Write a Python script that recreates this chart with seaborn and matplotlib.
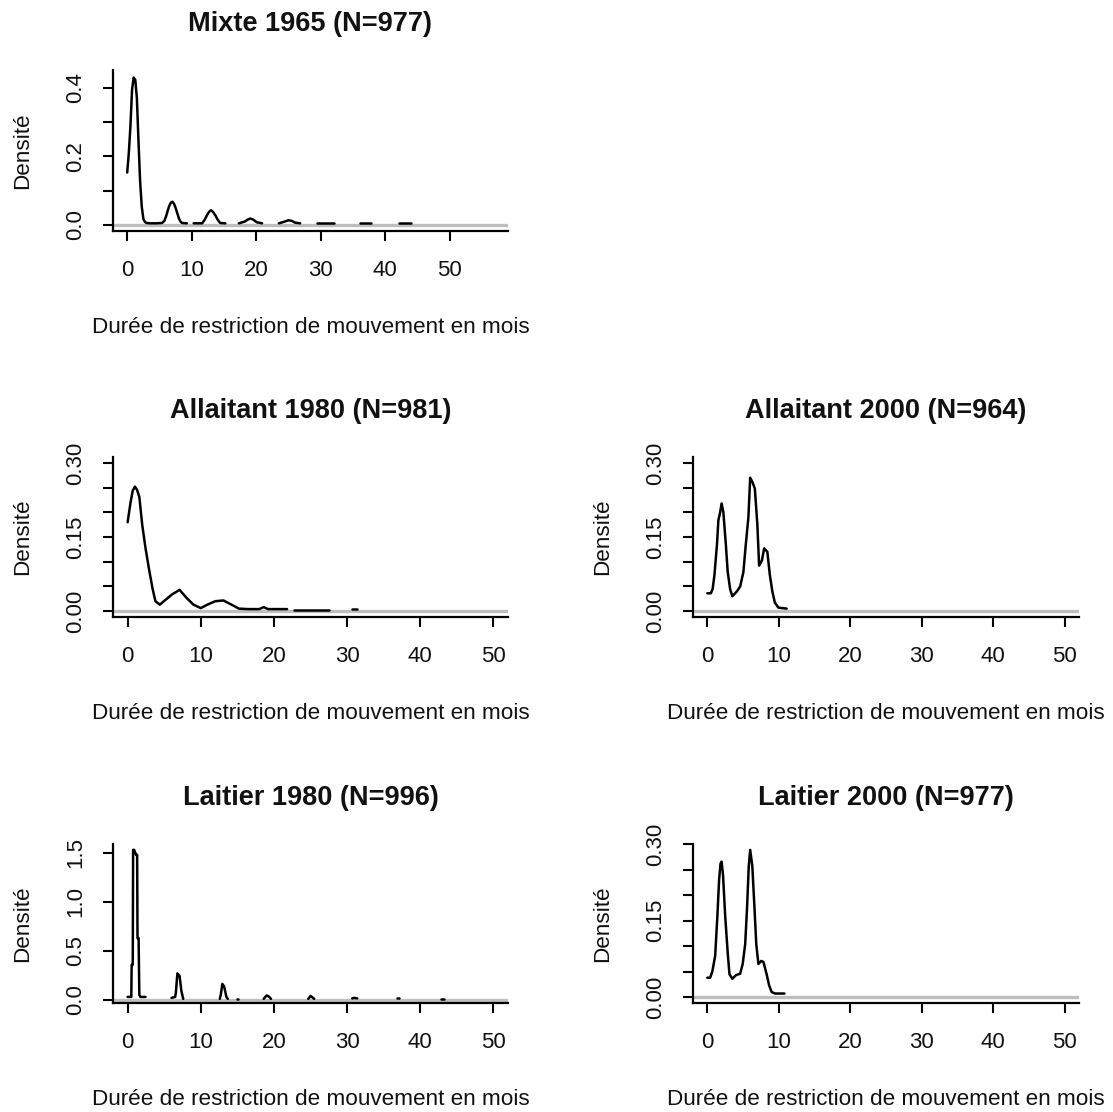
import numpy as np
import pandas as pd
import matplotlib
matplotlib.use("Agg")
import matplotlib.pyplot as plt
import seaborn as sns

# Density curves (NaN = break in the curve)
mixte65_x = [0, 0.25, 0.5, 0.75, 1.0, 1.25, 1.5, 1.75, 2.0, 2.25, 2.5, 2.75, 3.0, 3.5, 4.5, 5.4,
             5.75, 6.0, 6.25, 6.5, 6.75, 7.0, 7.25, 7.5, 7.75, 8.0, 8.25, 8.5, 9.25, 9.8,
             10.3, 11.6, 12.0, 12.4, 12.7, 13.0, 13.3, 13.7, 14.0, 14.4, 15.2, 16.3,
             17.3, 18.2, 18.7, 19.1, 19.5, 20.1, 20.9, 22.2,
             23.5, 24.4, 25.0, 25.5, 26.0, 26.8, 28.1,
             29.4, 32.0, 34.0, 36.1, 37.7, 40.0, 42.1, 43.9]
mixte65_y = [0.153, 0.21, 0.288, 0.394, 0.43, 0.423, 0.37, 0.244, 0.128, 0.055, 0.018, 0.009, 0.006, 0.005, 0.005, 0.006,
             0.012, 0.024, 0.04, 0.055, 0.065, 0.068, 0.062, 0.05, 0.035, 0.02, 0.01, 0.006, 0.005, np.nan,
             0.005, 0.005, 0.015, 0.03, 0.039, 0.043, 0.038, 0.027, 0.016, 0.006, 0.005, np.nan,
             0.005, 0.01, 0.016, 0.019, 0.016, 0.008, 0.005, np.nan,
             0.005, 0.01, 0.014, 0.012, 0.007, 0.005, np.nan,
             0.005, 0.005, np.nan, 0.005, 0.005, np.nan, 0.005, 0.005]

allait80_x = [0, 0.4, 0.7, 1.0, 1.3, 1.6, 2.0, 2.45, 2.9, 3.4, 3.8, 4.4, 5.2, 6.1, 7.1, 8.1, 9.0, 10.0,
              10.9, 12.0, 13.1, 14.2, 15.2, 16.5, 18.0, 18.6, 19.2, 20.5, 21.8, 22.3,
              22.7, 25.0, 27.5, 29.0, 30.7, 31.4]
allait80_y = [0.18, 0.22, 0.244, 0.252, 0.245, 0.231, 0.174, 0.127, 0.087, 0.046, 0.02, 0.013, 0.023, 0.034, 0.043, 0.026, 0.013, 0.006,
              0.013, 0.02, 0.0215, 0.013, 0.005, 0.004, 0.004, 0.008, 0.004, 0.004, 0.004, np.nan,
              0.003, 0.003, 0.003, np.nan, 0.005, 0.005]

allait00_x = [0, 0.5, 0.75, 1.0, 1.35, 1.55, 1.8, 2.0, 2.25, 2.6, 2.85, 3.2, 3.5, 4.15, 4.6, 5.05,
              5.35, 5.75, 6.0, 6.35, 6.65, 7.0, 7.25, 7.65, 7.95, 8.4, 8.75, 9.1, 9.45, 9.95, 11.1]
allait00_y = [0.036, 0.036, 0.045, 0.073, 0.134, 0.184, 0.2, 0.218, 0.2, 0.134, 0.08, 0.044, 0.03, 0.04, 0.05, 0.079,
              0.129, 0.19, 0.27, 0.26, 0.248, 0.176, 0.092, 0.103, 0.127, 0.12, 0.073, 0.04, 0.017, 0.007, 0.005]

lait80_x = [0, 0.5, 0.55, 0.7, 0.75, 0.9, 1.15, 1.3, 1.35, 1.5, 1.6, 1.75, 2.45, 4.0,
            6.0, 6.5, 6.6, 6.8, 7.1, 7.35, 7.6, 10.0,
            12.6, 12.75, 12.95, 13.2, 13.5, 13.7, 14.3, 14.9, 15.1, 17.0,
            18.6, 19.0, 19.3, 19.6, 22.0, 24.7, 25.0, 25.2, 25.5, 28.0,
            30.7, 31.0, 31.4, 34.0, 36.8, 37.1, 40.0, 42.9, 43.2]
lait80_y = [0.03, 0.03, 0.357, 0.357, 1.53, 1.53, 1.48, 1.48, 0.63, 0.63, 0.05, 0.03, 0.03, np.nan,
            0.02, 0.03, 0.075, 0.27, 0.245, 0.09, 0.01, np.nan,
            0.01, 0.058, 0.163, 0.136, 0.03, 0.01, np.nan, 0.01, 0.01, np.nan,
            0.01, 0.045, 0.035, 0.01, np.nan, 0.01, 0.04, 0.03, 0.01, np.nan,
            0.015, 0.02, 0.015, np.nan, 0.015, 0.015, np.nan, 0.01, 0.01]

lait00_x = [0, 0.4, 0.7, 1.1, 1.4, 1.65, 1.85, 2.0, 2.2, 2.5, 2.85, 3.1, 3.5, 4.0, 4.6, 4.95,
            5.3, 5.55, 5.8, 6.0, 6.3, 6.6, 6.85, 7.15, 7.55, 7.85, 8.3, 8.65, 9.0, 9.5, 10.8]
lait00_y = [0.038, 0.038, 0.05, 0.081, 0.156, 0.23, 0.262, 0.266, 0.24, 0.16, 0.088, 0.045, 0.036, 0.043, 0.046, 0.065,
            0.104, 0.172, 0.257, 0.289, 0.257, 0.175, 0.104, 0.065, 0.071, 0.069, 0.045, 0.023, 0.01, 0.007, 0.007]

titles = ["Mixte 1965 (N=977)", "Allaitant 1980 (N=981)", "Allaitant 2000 (N=964)",
          "Laitier 1980 (N=996)", "Laitier 2000 (N=977)"]
x_ticks = [0, 10, 20, 30, 40, 50]

sns.set_style("ticks")
plt.rcParams['font.family'] = ['Liberation Sans', 'DejaVu Sans']

W, H = 1113, 1112
fig = plt.figure(figsize=(W / 100, H / 100), dpi=100)

# (left, right, top, bottom) in pixels, xlim, ylim, yticks, labelled yticks, format
panels = [
    ((113, 508, 70, 231), mixte65_x, mixte65_y, (-2.2, 59.0), (-0.0174, 0.452),
     [0, 0.1, 0.2, 0.3, 0.4], [0, 0.2, 0.4], "{:.1f}"),
    ((113, 508, 457, 617), allait80_x, allait80_y, (-2, 52), (-0.012, 0.312),
     [0, 0.05, 0.1, 0.15, 0.2, 0.25, 0.3], [0, 0.15, 0.3], "{:.2f}"),
    ((693, 1079, 457, 617), allait00_x, allait00_y, (-2, 52), (-0.012, 0.312),
     [0, 0.05, 0.1, 0.15, 0.2, 0.25, 0.3], [0, 0.15, 0.3], "{:.2f}"),
    ((113, 508, 844, 1003), lait80_x, lait80_y, (-2, 52), (-0.032, 1.59),
     [0, 0.5, 1.0, 1.5], [0, 0.5, 1.0, 1.5], "{:.1f}"),
    ((693, 1079, 844, 1003), lait00_x, lait00_y, (-2, 52), (-0.0116, 0.3006),
     [0, 0.05, 0.1, 0.15, 0.2, 0.25, 0.3], [0, 0.15, 0.3], "{:.2f}"),
]

for (box, xs, ys, xlim, ylim, yt, ylab, fmt), title in zip(panels, titles):
    l, r, t, b = box
    ax = fig.add_axes([l / W, 1 - b / H, (r - l) / W, (b - t) / H])

    df = pd.DataFrame({"x": xs, "y": ys})
    df["seg"] = df["y"].isna().cumsum()
    df = df.dropna()

    ax.axhline(0, color="#BEBEBE", lw=2.4, zorder=1)
    sns.lineplot(data=df, x="x", y="y", units="seg", estimator=None, sort=False,
                 color="black", linewidth=1.8, ax=ax, legend=False, zorder=2)

    ax.set_xlim(*xlim)
    ax.set_ylim(*ylim)
    ax.set_xticks(x_ticks)
    ax.set_xticklabels([str(v) for v in x_ticks])
    ax.set_yticks(yt)
    ax.set_yticklabels([fmt.format(v) if any(abs(v - w) < 1e-9 for w in ylab) else "" for v in yt],
                       rotation=90, va="center")

    sns.despine(ax=ax)
    for s in ["left", "bottom"]:
        ax.spines[s].set_linewidth(1.6)
        ax.spines[s].set_color("black")
    ax.tick_params(axis="both", direction="out", length=7.2, width=1.5,
                   labelsize=16, colors="black", labelcolor="#111111")
    ax.tick_params(axis="x", pad=14)
    ax.tick_params(axis="y", pad=12)

    h = b - t
    w = r - l
    ax.set_xlabel("Durée de restriction de mouvement en mois", fontsize=16.2, color="#111111")
    ax.xaxis.set_label_coords(0.5, -86 / h)
    ax.set_ylabel("Densité", fontsize=16.2, color="#111111")
    ax.yaxis.set_label_coords(-(113 - 33) / w, 0.5)
    ax.set_title(title, fontsize=19.5, fontweight="bold", pad=28, color="#111111")

fig.savefig("out.png", dpi=100, facecolor="white")
